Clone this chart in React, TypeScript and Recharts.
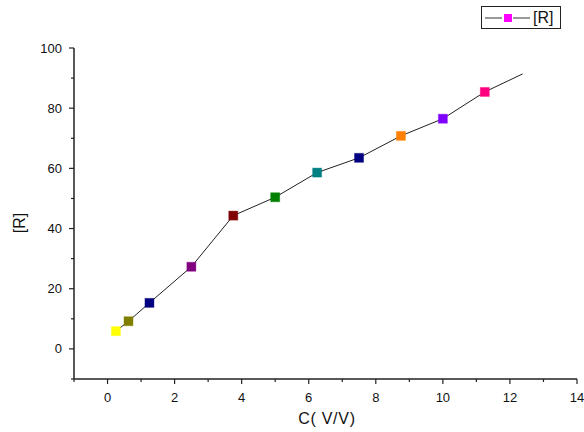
import React from "react";
import { LineChart, Line, XAxis, YAxis } from "recharts";

// C (V/V) values and measured [R]; last point is the line end without a marker
const concentration = [0.25, 0.625, 1.25, 2.5, 3.75, 5, 6.25, 7.5, 8.75, 10, 11.25, 12.38];
const response = [5.9, 9.2, 15.3, 27.3, 44.3, 50.4, 58.6, 63.5, 70.8, 76.5, 85.4, 91.4];
const markerColors = [
  "#FFFF00", "#808000", "#000080", "#800080", "#800000", "#008000",
  "#008080", "#000080", "#FF8000", "#8000FF", "#FF0080", "",
];
const xTicks = [-1, 0, 1, 2, 3, 4, 5, 6, 7, 8, 9, 10, 11, 12, 13, 14];
const yTicks = [-10, 0, 10, 20, 30, 40, 50, 60, 70, 80, 90, 100];

const data = concentration.map((c, i) => ({ c, r: response[i], color: markerColors[i] }));

const FONT = '"Liberation Sans", Arial, sans-serif';
const AXIS = "#222";

const XTick = (props: any) => {
  const { x, y, payload } = props;
  const v = payload.value;
  const major = v % 2 === 0;
  return (
    <g>
      <line x1={x} y1={y} x2={x} y2={y + (major ? 5 : 3)} stroke={AXIS} strokeWidth={1.2} />
      {major && (
        <text x={x} y={y + 23} textAnchor="middle" fontSize={13} fontFamily={FONT} fill="#111">
          {v}
        </text>
      )}
    </g>
  );
};

const YTick = (props: any) => {
  const { x, y, payload } = props;
  const v = payload.value;
  const major = v % 20 === 0;
  return (
    <g>
      <line x1={x} y1={y} x2={x - (major ? 5 : 3)} y2={y} stroke={AXIS} strokeWidth={1.2} />
      {major && (
        <text x={x - 12} y={y + 4.5} textAnchor="end" fontSize={13} fontFamily={FONT} fill="#111">
          {v}
        </text>
      )}
    </g>
  );
};

const SquareDot = (props: any) => {
  const { cx, cy, payload, index } = props;
  if (!payload.color) return <g key={index} />;
  return (
    <rect
      key={index}
      x={cx - 4.5}
      y={cy - 4.5}
      width={9}
      height={9}
      fill={payload.color}
      stroke={payload.color}
      strokeOpacity={0.4}
      strokeWidth={1}
    />
  );
};

export default function App() {
  return (
    <div style={{ position: "absolute", left: 0, top: 0, width: 584, height: 432, background: "#fff", overflow: "hidden" }}>
      <LineChart
        width={584}
        height={432}
        data={data}
        margin={{ top: 48, right: 7, bottom: 23, left: 34 }}
      >
        <XAxis
          type="number"
          dataKey="c"
          domain={[-1, 14]}
          ticks={xTicks}
          interval={0}
          tickSize={0}
          tickMargin={0}
          tickLine={false}
          tick={<XTick />}
          height={30}
          stroke={AXIS}
          strokeWidth={1.5}
          allowDataOverflow
        />
        <YAxis
          type="number"
          domain={[-10, 100]}
          ticks={yTicks}
          interval={0}
          tickSize={0}
          tickMargin={0}
          tickLine={false}
          tick={<YTick />}
          width={40}
          stroke={AXIS}
          strokeWidth={1.5}
          allowDataOverflow
        />
        <Line
          type="linear"
          dataKey="r"
          stroke="#222"
          strokeWidth={1}
          dot={<SquareDot />}
          activeDot={false}
          isAnimationActive={false}
        />
      </LineChart>
      <div
        style={{
          position: "absolute",
          left: 20,
          top: 223,
          transform: "translate(-50%, -50%) rotate(-90deg)",
          fontFamily: FONT,
          fontSize: 16,
          color: "#111",
          whiteSpace: "nowrap",
        }}
      >
        [R]
      </div>
      <div
        style={{
          position: "absolute",
          left: 327,
          top: 419,
          transform: "translate(-50%, -50%)",
          fontFamily: FONT,
          fontSize: 16,
          letterSpacing: 0.7,
          color: "#111",
          whiteSpace: "nowrap",
        }}
      >
        C( V/V)
      </div>
      <div
        style={{
          position: "absolute",
          left: 481,
          top: 6,
          width: 80,
          height: 23,
          border: "1px solid #222",
          boxSizing: "border-box",
          display: "flex",
          alignItems: "center",
          fontFamily: FONT,
          fontSize: 16,
          color: "#111",
        }}
      >
        <svg width={50} height={21} style={{ display: "block" }}>
          <line x1={3} y1={11} x2={20} y2={11} stroke="#777" strokeWidth={1.5} />
          <line x1={31} y1={11} x2={48} y2={11} stroke="#777" strokeWidth={1.5} />
          <rect x={22} y={7} width={8} height={8} fill="#FF00FF" />
        </svg>
        <span style={{ marginLeft: 1 }}>[R]</span>
      </div>
    </div>
  );
}
